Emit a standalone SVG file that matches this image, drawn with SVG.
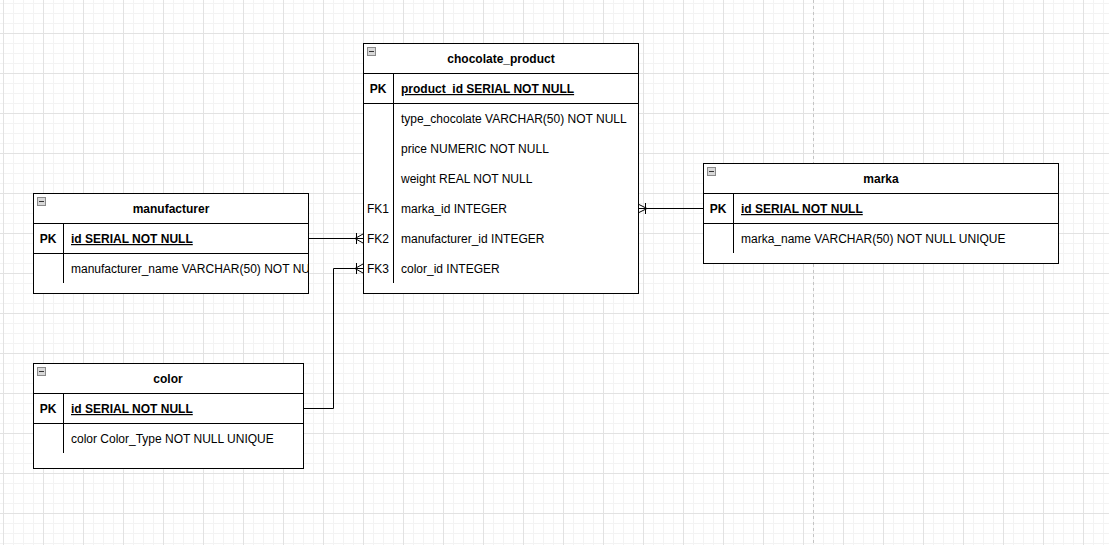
<svg xmlns="http://www.w3.org/2000/svg" width="1109" height="545" viewBox="0 0 1109 545">
<style>
.box{fill:#fff;stroke:#000;stroke-width:1}
.ln{stroke:#000;stroke-width:1;fill:none}
.t{font-family:"Liberation Sans",Arial,sans-serif;font-size:12px;fill:#000}
.h{font-weight:bold;text-anchor:middle}
.k{text-anchor:middle}
.kb{font-weight:bold;text-anchor:middle}
.pk{font-weight:bold;text-decoration:underline}
.ic{fill:#d8d8d8;stroke:#8a8a8a;stroke-width:1}
.icl{stroke:#333;stroke-width:1}
.conn{stroke:#000;stroke-width:1;fill:none}
</style>
<defs>
<pattern id="grid" x="3" y="33" width="40" height="40" patternUnits="userSpaceOnUse">
<path d="M10.5 0V40M20.5 0V40M30.5 0V40M0 10.5H40M0 20.5H40M0 30.5H40" stroke="#f3f3f3" stroke-width="1"/>
<path d="M0.5 0V40M0 0.5H40" stroke="#e2e2e2" stroke-width="1"/>
</pattern>
<clipPath id="cm"><rect x="33" y="193" width="275" height="100"/></clipPath>
<symbol id="icon" overflow="visible">
<rect class="ic" x="0.5" y="0.5" width="8" height="8"/>
<path class="icl" d="M2 4.5H7"/>
</symbol>
</defs>
<rect width="1109" height="545" fill="#fff"/>
<rect width="1109" height="545" fill="url(#grid)"/>
<path d="M813.5 0V545" stroke="#c4c4c4" stroke-width="1" stroke-dasharray="3 3"/>

<g id="connectors">
<path class="conn" d="M308 238.5H363"/>
<path class="conn" d="M356.5 233V244M355 238.5L363 234M355 238.5L363 243"/>
<path class="conn" d="M303 408.5H333.5V268.5H363"/>
<path class="conn" d="M356.5 263V274M355 268.5L363 264M355 268.5L363 273"/>
<path class="conn" d="M638 208.5H703"/>
<path class="conn" d="M645.5 203V214M647 208.5L638 204M647 208.5L638 213"/>
</g>

<g id="chocolate_product">
<rect class="box" x="363.5" y="43.5" width="275" height="250"/>
<path class="ln" d="M363 73.5H638M363 103.5H638M393.5 73V103M393.5 103V283"/>
<use href="#icon" x="367" y="47"/>
<text class="t h" x="501" y="63">chocolate_product</text>
<text class="t kb" x="378" y="93">PK</text>
<text class="t pk" x="401" y="93">product_id SERIAL NOT NULL</text>
<text class="t" x="401" y="123">type_chocolate VARCHAR(50) NOT NULL</text>
<text class="t" x="401" y="153">price NUMERIC NOT NULL</text>
<text class="t" x="401" y="183">weight REAL NOT NULL</text>
<text class="t k" x="378" y="213">FK1</text>
<text class="t" x="401" y="213">marka_id INTEGER</text>
<text class="t k" x="378" y="243">FK2</text>
<text class="t" x="401" y="243">manufacturer_id INTEGER</text>
<text class="t k" x="378" y="273">FK3</text>
<text class="t" x="401" y="273">color_id INTEGER</text>
</g>

<g id="manufacturer">
<rect class="box" x="33.5" y="193.5" width="275" height="100"/>
<path class="ln" d="M33 223.5H308M33 253.5H308M63.5 223V283"/>
<use href="#icon" x="37" y="197"/>
<text class="t h" x="171" y="213">manufacturer</text>
<text class="t kb" x="48" y="243">PK</text>
<text class="t pk" x="71" y="243">id SERIAL NOT NULL</text>
<text class="t" x="71" y="273" clip-path="url(#cm)">manufacturer_name VARCHAR(50) NOT NULL</text>
</g>

<g id="color">
<rect class="box" x="33.5" y="363.5" width="270" height="105"/>
<path class="ln" d="M33 393.5H303M33 423.5H303M63.5 393V453"/>
<use href="#icon" x="37" y="367"/>
<text class="t h" x="168" y="383">color</text>
<text class="t kb" x="48" y="413">PK</text>
<text class="t pk" x="71" y="413">id SERIAL NOT NULL</text>
<text class="t" x="71" y="443">color Color_Type NOT NULL UNIQUE</text>
</g>

<g id="marka">
<rect class="box" x="703.5" y="163.5" width="355" height="100"/>
<path class="ln" d="M703 193.5H1058M703 223.5H1058M733.5 193V253"/>
<use href="#icon" x="707" y="167"/>
<text class="t h" x="881" y="183">marka</text>
<text class="t kb" x="718" y="213">PK</text>
<text class="t pk" x="741" y="213">id SERIAL NOT NULL</text>
<text class="t" x="741" y="243">marka_name VARCHAR(50) NOT NULL UNIQUE</text>
</g>
</svg>
